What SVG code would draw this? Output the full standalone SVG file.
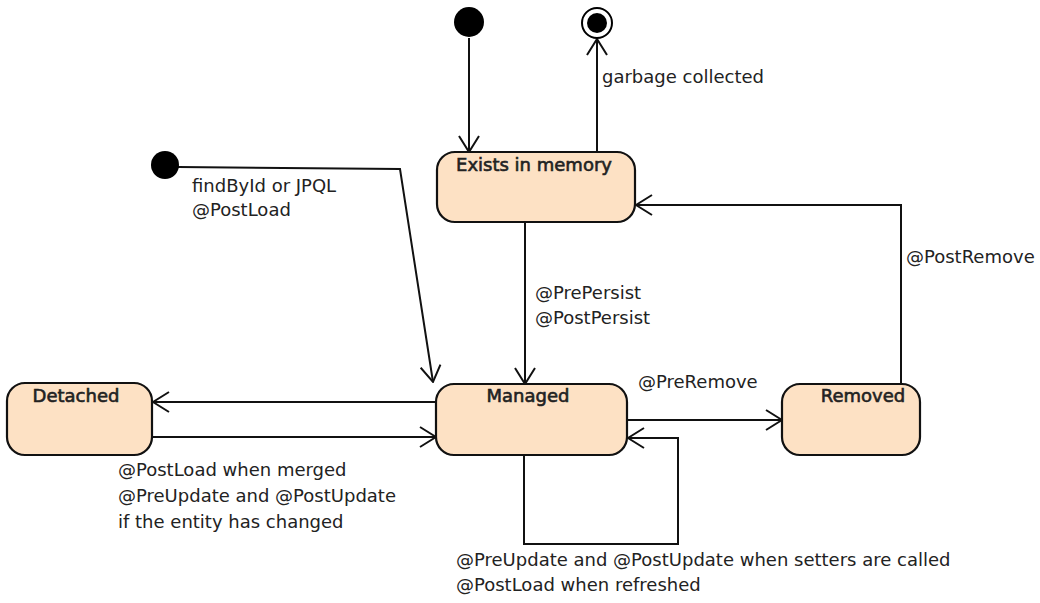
<svg xmlns="http://www.w3.org/2000/svg" width="1040" height="603" viewBox="0 0 1040 603">
<style>
.node{fill:#fde1c4;stroke:#111;stroke-width:2.2}
.title{font-family:"DejaVu Sans",sans-serif;font-size:18px;fill:#222;stroke:#222;stroke-width:0.6;text-anchor:middle}
.lbl{font-family:"DejaVu Sans",sans-serif;font-size:18px;fill:#222}
.edge{fill:none;stroke:#111;stroke-width:2;marker-end:url(#arr)}
</style>
<defs>
<marker id="arr" viewBox="0 0 18 22" refX="17" refY="11" markerWidth="18" markerHeight="22" orient="auto" markerUnits="userSpaceOnUse">
<path d="M1,1 L17,11 L1,21" fill="none" stroke="#111" stroke-width="2"/>
</marker>
</defs>
<rect width="1040" height="603" fill="#fff"/>
<g id="connectors">
<path class="edge" d="M469,38 L469,152"/>
<path class="edge" d="M597,152 L597,39"/>
<path class="edge" d="M178,167 L400,169 L433,382"/>
<path class="edge" d="M525,222 L525,384"/>
<path class="edge" d="M436,402 L153,402"/>
<path class="edge" d="M152,437 L436,437"/>
<path class="edge" d="M627,420 L782,420"/>
<path class="edge" d="M524,455 L524,544 L678,544 L678,438 L628,438"/>
<path class="edge" d="M901,384 L901,205 L636,205"/>
</g>
<g id="init-top"><circle cx="469" cy="22" r="15" fill="#000"/></g>
<g id="init-left"><circle cx="165" cy="165" r="14" fill="#000"/></g>
<g id="final"><circle cx="597" cy="23" r="15" fill="#fff" stroke="#000" stroke-width="2"/><circle cx="597" cy="23" r="10" fill="#000"/></g>
<g id="exists"><rect class="node" x="437" y="152" width="198" height="70" rx="18"/><text class="title" x="534" y="171">Exists in memory</text></g>
<g id="managed"><rect class="node" x="436" y="384" width="191" height="71" rx="18"/><text class="title" x="528" y="402">Managed</text></g>
<g id="detached"><rect class="node" x="7" y="383" width="145" height="72" rx="18"/><text class="title" x="76" y="402">Detached</text></g>
<g id="removed"><rect class="node" x="782" y="384" width="138" height="71" rx="18"/><text class="title" x="863" y="402">Removed</text></g>
<g id="labels">
<text class="lbl" x="602" y="83">garbage collected</text>
<text class="lbl" x="192" y="192">findById or JPQL</text>
<text class="lbl" x="192" y="216">@PostLoad</text>
<text class="lbl" x="535" y="299">@PrePersist</text>
<text class="lbl" x="535" y="324">@PostPersist</text>
<text class="lbl" x="906" y="263">@PostRemove</text>
<text class="lbl" x="638" y="388">@PreRemove</text>
<text class="lbl" x="118" y="476">@PostLoad when merged</text>
<text class="lbl" x="118" y="502">@PreUpdate and @PostUpdate</text>
<text class="lbl" x="118" y="528">if the entity has changed</text>
<text class="lbl" x="456" y="566">@PreUpdate and @PostUpdate when setters are called</text>
<text class="lbl" x="456" y="591">@PostLoad when refreshed</text>
</g>
</svg>
